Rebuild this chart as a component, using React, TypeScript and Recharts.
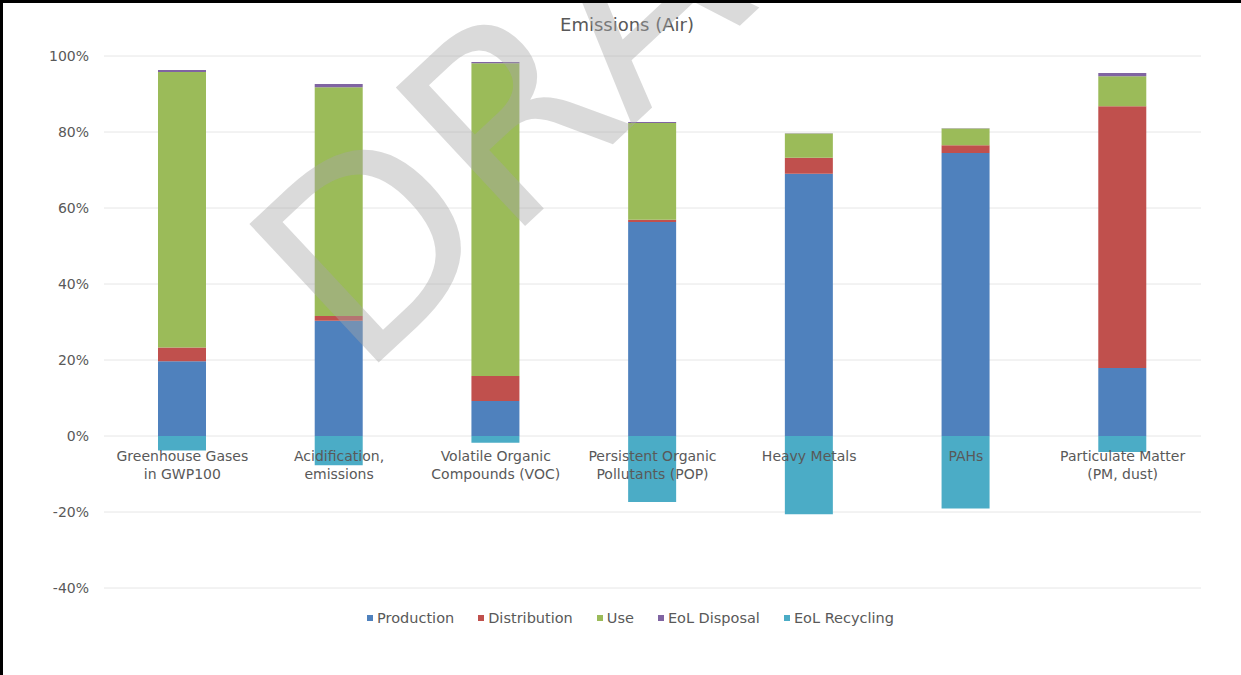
import { BarChart, Bar, XAxis, YAxis, CartesianGrid, Legend } from 'recharts'

const categories = [
  'Greenhouse Gases\nin GWP100',
  'Acidification,\nemissions',
  'Volatile Organic\nCompounds (VOC)',
  'Persistent Organic\nPollutants (POP)',
  'Heavy Metals',
  'PAHs',
  'Particulate Matter\n(PM, dust)',
]
const production = [19.7, 30.3, 9.2, 56.3, 69.0, 74.5, 17.9]
const distribution = [3.6, 1.3, 6.6, 0.6, 4.2, 2.0, 68.9]
const use = [72.5, 60.2, 82.3, 25.5, 6.4, 4.4, 7.9]
const eolDisposal = [0.5, 0.8, 0.3, 0.2, 0.1, 0.1, 0.8]
const eolRecycling = [-3.8, -7.7, -1.8, -17.4, -20.6, -19.1, -4.2]
const yTicks = [-40, -20, 0, 20, 40, 60, 80, 100]

const series = [
  { key: 'production', name: 'Production', color: '#4f81bd' },
  { key: 'distribution', name: 'Distribution', color: '#c0504d' },
  { key: 'use', name: 'Use', color: '#9bbb59' },
  { key: 'eolDisposal', name: 'EoL Disposal', color: '#8064a2' },
  { key: 'eolRecycling', name: 'EoL Recycling', color: '#4bacc6' },
]

const data = categories.map((name, i) => ({
  name,
  production: production[i],
  distribution: distribution[i],
  use: use[i],
  eolDisposal: eolDisposal[i],
  eolRecycling: eolRecycling[i],
}))

const W = 1241
const H = 675
const PLOT_TOP = 56
const PLOT_BOTTOM = 588
const X_AXIS_H = 30
const Y_MIN = -40
const Y_MAX = 100
const FONT = '"DejaVu Sans", Verdana, sans-serif'
const TEXT = '#595959'

// category labels sit just under the 0% line, not at the bottom of the plot
const zeroShift = ((0 - Y_MIN) / (Y_MAX - Y_MIN)) * (PLOT_BOTTOM - PLOT_TOP)

function CategoryTick(props: any) {
  const { x, y, payload } = props
  const lines = String(payload.value).split('\n')
  return (
    <text x={x} y={y - zeroShift + 25} textAnchor="middle" fill={TEXT} fontSize={14} fontFamily={FONT}>
      {lines.map((l, i) => (
        <tspan key={i} x={x} dy={i === 0 ? 0 : 17.5}>{l}</tspan>
      ))}
    </text>
  )
}

// legend in the series order (recharts would sort it by name)
function LegendContent() {
  return (
    <div style={{ display: 'flex', justifyContent: 'center', fontFamily: FONT, fontSize: 14.5, color: TEXT }}>
      {series.map(s => (
        <div key={s.key} style={{ display: 'flex', alignItems: 'center', marginRight: 24 }}>
          <span style={{ width: 6, height: 6, background: s.color, marginRight: 4, display: 'inline-block' }} />
          <span>{s.name}</span>
        </div>
      ))}
    </div>
  )
}

export default function App() {
  return (
    <div style={{ position: 'fixed', left: 0, top: 0, width: W, height: H, background: '#fff', overflow: 'hidden' }}>
      <div style={{ position: 'absolute', left: 0, top: 14, width: 1254, textAlign: 'center', fontFamily: FONT, fontSize: 18, color: TEXT }}>
        Emissions (Air)
      </div>
      <BarChart
        width={W}
        height={H}
        data={data}
        stackOffset="sign"
        margin={{ top: PLOT_TOP, right: 40, bottom: H - PLOT_BOTTOM - X_AXIS_H, left: 0 }}
      >
        <CartesianGrid vertical={false} stroke="#e6e6e6" />
        <XAxis
          dataKey="name"
          height={X_AXIS_H}
          axisLine={false}
          tickLine={false}
          tickSize={0}
          tickMargin={0}
          interval={0}
          tick={<CategoryTick />}
        />
        <YAxis
          width={104}
          domain={[Y_MIN, Y_MAX]}
          ticks={yTicks}
          tickFormatter={(v: number) => `${v}%`}
          axisLine={false}
          tickLine={false}
          tickSize={6}
          tickMargin={9}
          tick={{ fill: TEXT, fontSize: 14, fontFamily: FONT }}
        />
        <Legend
          layout="horizontal"
          verticalAlign="middle"
          align="center"
          content={<LegendContent />}
          wrapperStyle={{ top: 610, left: 22, width: W, height: 20 }}
        />
        {series.map(s => (
          <Bar key={s.key} dataKey={s.key} name={s.name} stackId="a" fill={s.color} barSize={48} isAnimationActive={false} />
        ))}
      </BarChart>
      <svg width={W} height={H} style={{ position: 'absolute', left: 0, top: 0, pointerEvents: 'none' }}>
        <text
          x={360}
          y={380}
          fontSize={260}
          fontFamily={FONT}
          fill="#a8a8a8"
          fillOpacity={0.42}
          transform="rotate(-43 360 380)"
        >
          DRAFT
        </text>
      </svg>
      <div style={{ position: 'absolute', left: 0, top: 0, width: W, height: H, borderTop: '3px solid #000', borderLeft: '3px solid #000', boxSizing: 'border-box', pointerEvents: 'none' }} />
    </div>
  )
}
